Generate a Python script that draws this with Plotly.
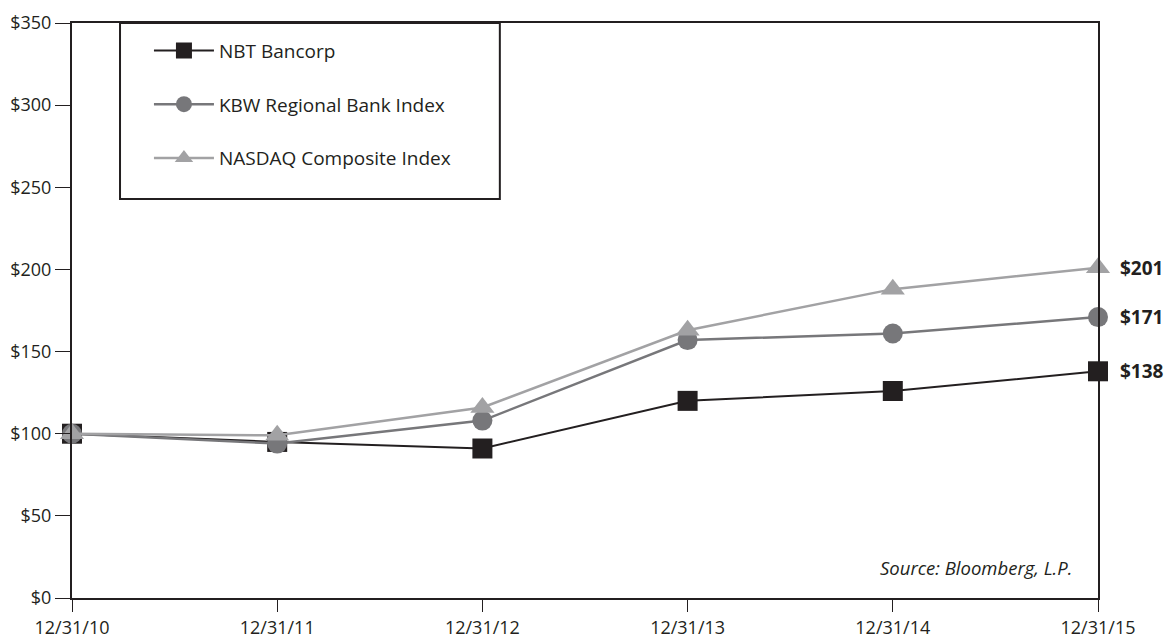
import plotly.graph_objects as go

dates = ["12/31/10", "12/31/11", "12/31/12", "12/31/13", "12/31/14", "12/31/15"]
nbt = [100, 95, 91, 120, 126, 138]
kbw = [100, 94, 108, 157, 161, 171]
nasdaq = [100, 99, 116, 163, 188, 201]
y_ticks = [0, 50, 100, 150, 200, 250, 300, 350]

series = [
    ("NBT Bancorp", nbt, "#231f20", "square", 2),
    ("KBW Regional Bank Index", kbw, "#77777a", "circle", 2.5),
    ("NASDAQ Composite Index", nasdaq, "#a2a2a4", "triangle-up", 2.5),
]

FONT = "Open Sans"
fig = go.Figure()
for i, (name, vals, color, sym, lw) in enumerate(series):
    fig.add_trace(go.Scatter(
        x=list(range(len(dates))), y=vals, name=name,
        mode="lines+markers",
        line=dict(color=color, width=lw),
        marker=dict(symbol=sym, size=20 if sym != "triangle-up" else 21, color=color),
        cliponaxis=False, legendgroup=f"g{i}",
    ))
    fig.add_annotation(x=len(vals) - 1, y=vals[-1], text=f"<b>${vals[-1]}</b>",
                       xanchor="left", yanchor="middle", xshift=20, showarrow=False,
                       font=dict(family=FONT, size=19, color="#231f20"))

fig.add_shape(type="rect", xref="paper", yref="paper",
              x0=0.0468, x1=0.417, y0=0.694, y1=1.0,
              line=dict(color="#231f20", width=2), fillcolor="white", layer="below")

fig.add_annotation(text="<i>Source: Bloomberg, L.P.</i>", xref="paper", yref="paper",
                   x=0.977, y=0.053, xanchor="right", yanchor="middle", showarrow=False,
                   font=dict(family=FONT, size=18.5, color="#231f20"))

fig.update_layout(
    width=1167, height=638,
    margin=dict(l=72, r=69, t=23, b=40),
    plot_bgcolor="white", paper_bgcolor="white",
    font=dict(family=FONT, size=18, color="#231f20"),
    legend=dict(x=0.075, y=0.985, xanchor="left", yanchor="top",
                bgcolor="rgba(0,0,0,0)", borderwidth=0,
                font=dict(family=FONT, size=19, color="#231f20"),
                tracegroupgap=26, itemwidth=60),
    xaxis=dict(range=[0, 5], tickmode="array", tickvals=list(range(len(dates))),
               ticktext=dates, showgrid=False, zeroline=False, automargin=False,
               showline=True, mirror=True, linecolor="#231f20", linewidth=2,
               ticks="outside", ticklen=12, tickwidth=1, tickcolor="#231f20",
               tickfont=dict(size=18)),
    yaxis=dict(range=[0, 350], tickmode="array", tickvals=y_ticks,
               ticktext=[f"${v}" for v in y_ticks], showgrid=False, automargin=False,
               zeroline=False, showline=True, mirror=True, linecolor="#231f20",
               linewidth=2, ticks="outside", ticklen=15, tickwidth=1,
               tickcolor="#231f20", tickfont=dict(size=18)),
)

fig.write_html("out.html", config={"displayModeBar": False},
               post_script="document.body.style.margin='0';document.body.style.overflow='hidden';")
